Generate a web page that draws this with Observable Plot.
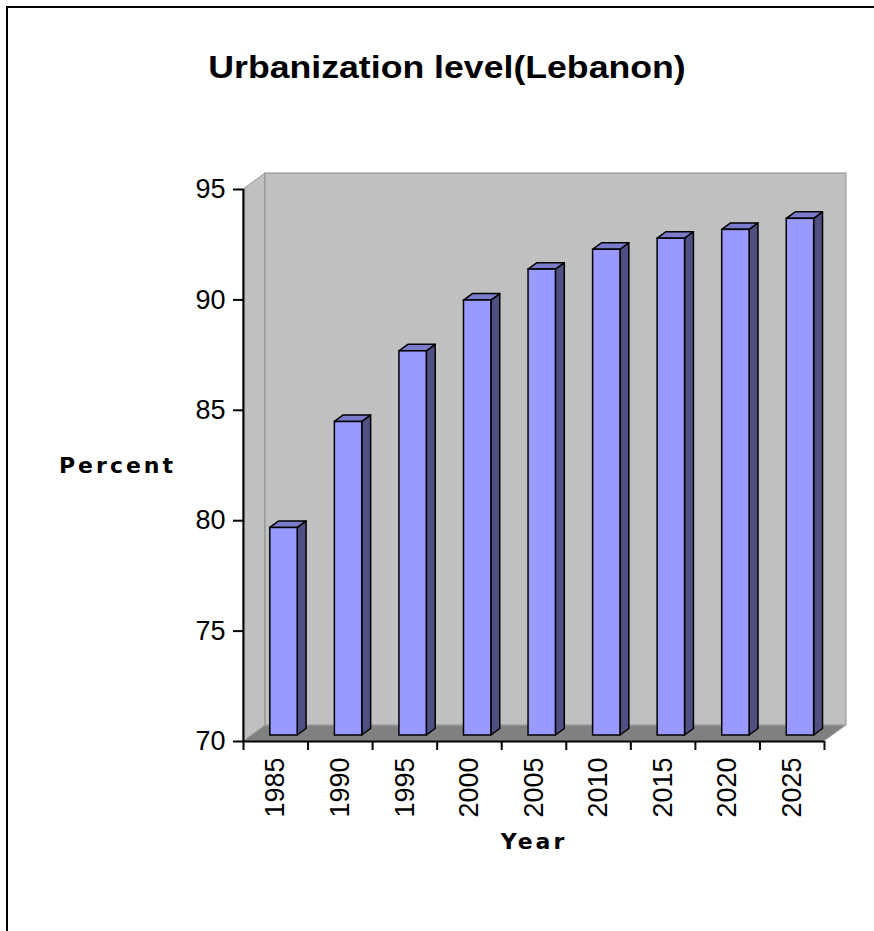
<!DOCTYPE html>
<html>
<head>
<meta charset="utf-8">
<script src="https://cdn.jsdelivr.net/npm/d3@7"></script>
<script src="https://cdn.jsdelivr.net/npm/@observablehq/plot@0.6"></script>
<style>
  html, body { margin: 0; padding: 0; background: #fff; overflow: hidden; }
  #chart { position: relative; width: 874px; height: 931px; overflow: hidden;
           font-family: "Liberation Sans", Arial, sans-serif; }
  #frame { position: absolute; left: 6px; top: 6px; width: 900px; height: 960px;
           border-top: 2px solid #000; border-left: 2px solid #000; }
  #title { position: absolute; left: 447px; top: 52px; transform: translateX(-50%) scaleX(1.15);
           white-space: nowrap; font-size: 31px; line-height: 31px; font-weight: bold;
           color: #000; }
  #plot { position: absolute; left: 0; top: 0; }
</style>
</head>
<body>
<div id="chart">
  <div id="frame"></div>
  <div id="title">Urbanization level(Lebanon)</div>
  <div id="plot"></div>
</div>
<script>
// Urban population share of Lebanon, in percent
const years = [1985, 1990, 1995, 2000, 2005, 2010, 2015, 2020, 2025];
const urbanPct = [79.4, 84.2, 87.4, 89.7, 91.1, 92.0, 92.5, 92.9, 93.4];
const yTicks = [70, 75, 80, 85, 90, 95];
const yLabel = "Percent";
const xLabel = "Year";

// value range and category spacing (five-year steps)
const yMin = 70, yMax = 95;
const halfStep = 2.5;
const xStart = years[0] - halfStep;
const xEnd = years[years.length - 1] + halfStep;
const boundaries = years.map(y => y - halfStep).concat([xEnd]);

// pseudo-3D depth of the chart box, expressed in data units
const depthX = 1.7;    // years
const depthY = 0.725;  // percent
const barFront = 0.375, barBack = 0.78; // bar depth as fraction of box depth
const halfBar = 1.06;  // half bar width, years

const rows = years.map((year, i) => ({year, pct: urbanPct[i]}));

// left side wall, back wall and floor of the box
const sideWall = [0, 1].map(f => ({x: xStart + f * depthX, y1: yMin + f * depthY, y2: yMax + f * depthY}));
const floor = [0, 1].map(f => ({y: yMin + f * depthY, x1: xStart + f * depthX, x2: xEnd + f * depthX}));
const backWall = [{x1: xStart + depthX, x2: xEnd + depthX, y1: yMin + depthY, y2: yMax + depthY}];

// faces of each column
const fronts = rows.map(d => ({
  x1: d.year - halfBar + barFront * depthX, x2: d.year + halfBar + barFront * depthX,
  y1: yMin + barFront * depthY, y2: d.pct + barFront * depthY
}));
const sides = rows.flatMap(d => [barFront, barBack].map(f => ({
  year: d.year, x: d.year + halfBar + f * depthX, y1: yMin + f * depthY, y2: d.pct + f * depthY
})));
const tops = rows.flatMap(d => [barFront, barBack].map(f => ({
  year: d.year, y: d.pct + f * depthY, x1: d.year - halfBar + f * depthX, x2: d.year + halfBar + f * depthX
})));

const labelFont = "'DejaVu Sans', Verdana, sans-serif";

const chart = Plot.plot({
  width: 874,
  height: 931,
  marginLeft: 243,
  marginRight: 50,
  marginTop: 189,
  marginBottom: 190,
  style: {fontFamily: "'Liberation Sans', Arial, sans-serif", background: "transparent", overflow: "visible", color: "#000"},
  x: {type: "linear", domain: [xStart, xEnd]},
  y: {type: "linear", domain: [yMin, yMax]},
  marks: [
    Plot.areaY(sideWall, {x: "x", y1: "y1", y2: "y2", fill: "#C0C0C0", stroke: "#9a9a9a", strokeWidth: 1}),
    Plot.rect(backWall, {x1: "x1", x2: "x2", y1: "y1", y2: "y2", fill: "#C0C0C0", stroke: "#8c8c8c", strokeWidth: 1}),
    Plot.areaX(floor, {y: "y", x1: "x1", x2: "x2", fill: "#808080", stroke: "#a8a8a8", strokeWidth: 1}),
    Plot.areaY(sides, {x: "x", y1: "y1", y2: "y2", z: "year", fill: "#4F4F82", stroke: "#000", strokeWidth: 1.5}),
    Plot.areaX(tops, {y: "y", x1: "x1", x2: "x2", z: "year", fill: "#7B7BCC", stroke: "#000", strokeWidth: 1.5}),
    Plot.rect(fronts, {x1: "x1", x2: "x2", y1: "y1", y2: "y2", fill: "#9999FF", stroke: "#000", strokeWidth: 1.5}),
    Plot.ruleX([xStart], {y1: yMin, y2: yMax, stroke: "#000", strokeWidth: 2}),
    Plot.ruleY([yMin], {x1: xStart, x2: xEnd, stroke: "#000", strokeWidth: 2}),
    Plot.axisY({ticks: yTicks, tickSize: 10, tickPadding: 8, fontSize: 27, strokeWidth: 2, label: null}),
    Plot.axisX({ticks: boundaries, tickSize: 9, tickFormat: () => "", strokeWidth: 2, label: null}),
    Plot.text(years, {x: d => d, y: yMin, text: d => String(d), rotate: -90, textAnchor: "end", dy: 16, fontSize: 27}),
    Plot.text([yLabel], {frameAnchor: "left", dx: -126, fontSize: 22, fontWeight: "bold", fontFamily: labelFont, textAnchor: "middle"}),
    Plot.text([xLabel], {frameAnchor: "bottom", dy: 107, fontSize: 22, fontWeight: "bold", fontFamily: labelFont, textAnchor: "middle"})
  ]
});
document.getElementById("plot").appendChild(chart);
// wide lettering for the axis titles
d3.select(chart).selectAll("text").filter(function () {
  const t = this.textContent; return t === yLabel || t === xLabel;
}).style("letter-spacing", "3px");
</script>
</body>
</html>
